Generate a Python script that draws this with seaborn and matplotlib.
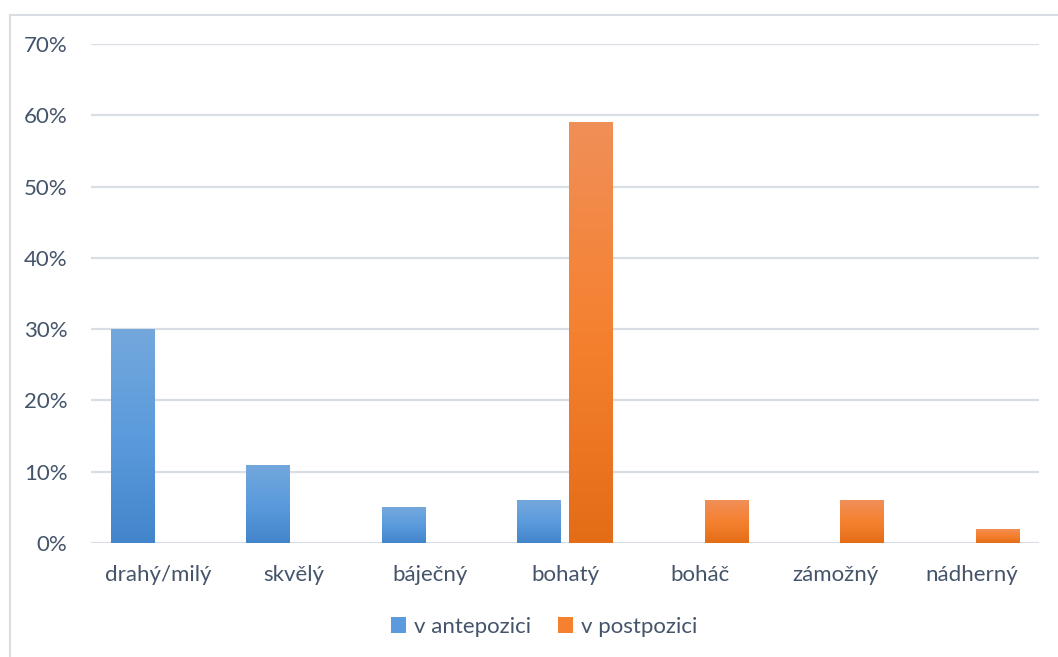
import numpy as np
import pandas as pd
import matplotlib
matplotlib.use("Agg")
import matplotlib.pyplot as plt
from matplotlib.colors import LinearSegmentedColormap
from matplotlib.patches import Rectangle, Patch
from matplotlib.ticker import PercentFormatter
import seaborn as sns

categories = ["drahý/milý", "skvělý", "báječný", "bohatý", "boháč", "zámožný", "nádherný"]
antepozice = [0.30, 0.11, 0.05, 0.06, 0.0, 0.0, 0.0]
postpozice = [0.0, 0.0, 0.0, 0.59, 0.06, 0.06, 0.02]
series_names = ["v antepozici", "v postpozici"]

blue_grad = ["#4385cb", "#5b9bdd", "#74a8dc"]     # bottom -> top
orange_grad = ["#e46c17", "#f58130", "#f08f58"]
text_color = "#44546a"
grid_color = "#d9dde4"

df = pd.DataFrame({
    "kategorie": categories * 2,
    "podil": antepozice + postpozice,
    "pozice": [series_names[0]] * len(categories) + [series_names[1]] * len(categories),
})

sns.set_theme(style="white")
plt.rcParams["font.family"] = ["Lato", "DejaVu Sans"]

fig = plt.figure(figsize=(10.58, 6.57), dpi=100)
fig.patch.set_facecolor("white")

# outer chart-area frame
fig.patches.append(Rectangle((10 / 1058, -0.05), 1.1, 1 - 15 / 657 + 0.05,
                             transform=fig.transFigure, fill=False,
                             edgecolor=grid_color, linewidth=1.5, zorder=0))

ax = fig.add_axes([91 / 1058, 1 - 543 / 657, (1039 - 91) / 1058, (543 - 44) / 657])

sns.barplot(data=df, x="kategorie", y="podil", hue="pozice",
            palette=[blue_grad[1], orange_grad[1]], width=0.77, gap=0.17,
            ax=ax, legend=False, linewidth=0)

ax.set_ylim(0, 0.70)
ax.set_xlim(-0.5, len(categories) - 0.5)
ax.set_yticks(np.arange(0, 0.71, 0.10))
ax.yaxis.set_major_formatter(PercentFormatter(1.0, decimals=0))
ax.set_xlabel("")
ax.set_ylabel("")
for s in ax.spines.values():
    s.set_visible(False)
ax.grid(axis="y", color=grid_color, linewidth=1.6, zorder=0)
ax.set_axisbelow(True)
ax.tick_params(axis="both", length=0, labelsize=16, labelcolor=text_color)
ax.tick_params(axis="y", pad=17)
ax.tick_params(axis="x", pad=16)

# vertical gradient fill for every bar
grad = np.linspace(0, 1, 256).reshape(-1, 1)
cmaps = [LinearSegmentedColormap.from_list("b", blue_grad),
         LinearSegmentedColormap.from_list("o", orange_grad)]
n = len(categories)
for i, p in enumerate(ax.patches[:2 * n]):
    h = p.get_height()
    if h <= 0:
        p.set_visible(False)
        continue
    x0 = p.get_x()
    w = p.get_width()
    im = ax.imshow(grad, cmap=cmaps[i // n], aspect="auto", origin="lower",
                   extent=(x0, x0 + w, 0, h), zorder=2)
    im.set_clip_path(p)
    p.set_facecolor("none")
ax.set_xlim(-0.5, len(categories) - 0.5)
ax.set_ylim(0, 0.70)

handles = [Patch(facecolor=blue_grad[1], edgecolor="none"),
           Patch(facecolor=orange_grad[1], edgecolor="none")]
fig.legend(handles, series_names, loc="center", bbox_to_anchor=(544 / 1058, 1 - 627 / 657),
           ncol=2, frameon=False, fontsize=16, labelcolor=text_color,
           handlelength=0.7, handleheight=0.7, handletextpad=0.35, columnspacing=1.2)

fig.savefig("out.png", dpi=100, facecolor="white")
